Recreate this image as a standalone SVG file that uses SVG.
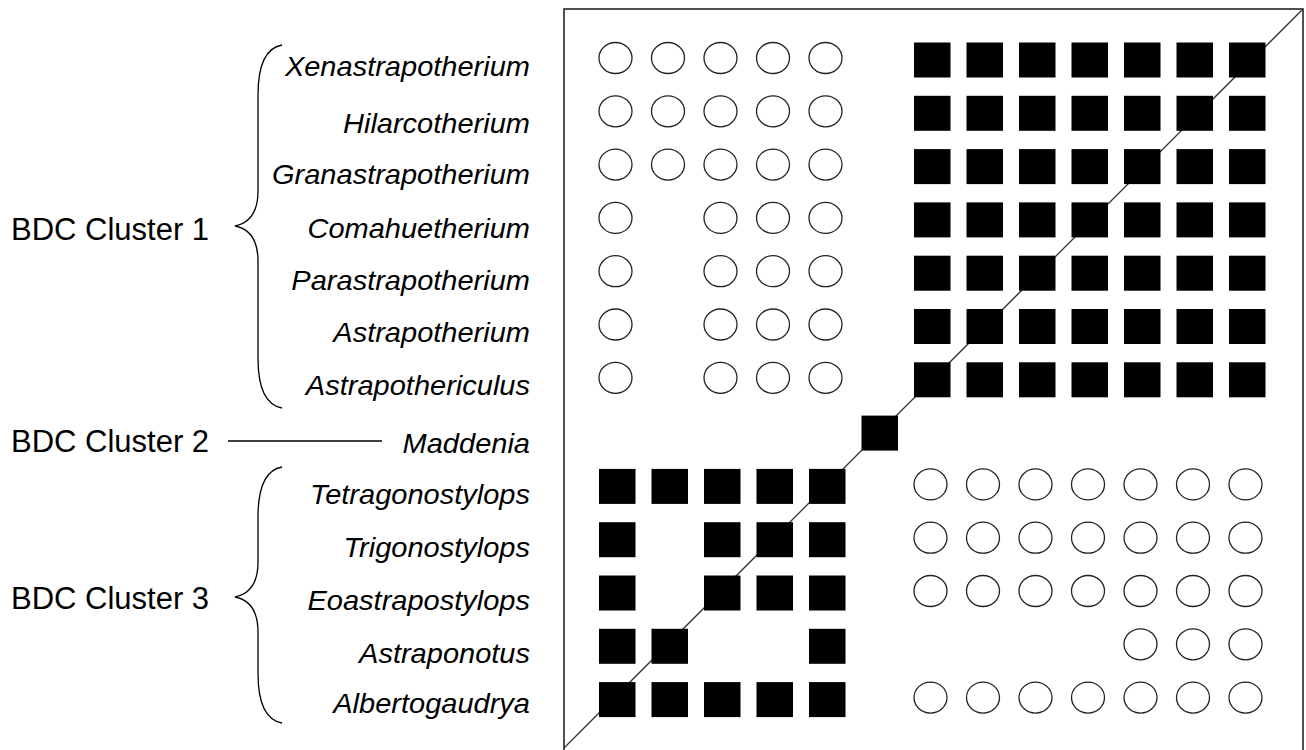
<svg xmlns="http://www.w3.org/2000/svg" xmlns:xlink="http://www.w3.org/1999/xlink" width="1306" height="750" viewBox="0 0 1306 750">
<style>
.sp{font-family:"Liberation Sans",Arial,sans-serif;font-style:italic;font-size:27px;fill:#000;text-anchor:end}
.cl{font-family:"Liberation Sans",Arial,sans-serif;font-size:31px;fill:#000}
.br{fill:none;stroke:#000;stroke-width:1.3}
.ln{fill:none;stroke:#333;stroke-width:1.3}
.ci{fill:#fff;stroke:#222;stroke-width:1.3}
.sq{fill:#000}
</style>
<defs>
<rect id="sq" class="sq" width="36.5" height="35"/>
<ellipse id="ci" class="ci" cx="16.5" cy="15.5" rx="16.5" ry="15.5"/>
</defs>
<rect width="1306" height="750" fill="#fff"/>
<rect x="564" y="9" width="739" height="760" fill="#fff" stroke="#333" stroke-width="1.7"/>
<g id="connectors">
<line class="ln" x1="564" y1="748" x2="1303" y2="9"/>
<line class="br" x1="228" y1="441" x2="382" y2="441"/>
<path class="br" d="M282,45 C265,48 258,65 258,95 L258,191 C258,211 250,223 235,226 C250,229 258,241 258,261 L258,358 C258,388 265,405 282,408"/>
<path class="br" d="M282,467 C265,470 258,487 258,517 L258,562 C258,582 250,594 235,597 C250,600 258,612 258,632 L258,673 C258,703 265,720 282,723"/>
</g>
<g id="cluster-labels">
<text id="cluster1" class="cl" x="11" y="240">BDC Cluster 1</text>
<text id="cluster2" class="cl" x="11" y="452">BDC Cluster 2</text>
<text id="cluster3" class="cl" x="11" y="609">BDC Cluster 3</text>
</g>
<g id="taxa">
<text class="sp" transform="translate(530,76) scale(1.075,1)">Xenastrapotherium</text>
<text class="sp" transform="translate(530,133) scale(1.075,1)">Hilarcotherium</text>
<text class="sp" transform="translate(530,184) scale(1.075,1)">Granastrapotherium</text>
<text class="sp" transform="translate(530,238) scale(1.075,1)">Comahuetherium</text>
<text class="sp" transform="translate(530,290) scale(1.075,1)">Parastrapotherium</text>
<text class="sp" transform="translate(530,342) scale(1.075,1)">Astrapotherium</text>
<text class="sp" transform="translate(530,395) scale(1.075,1)">Astrapothericulus</text>
<text class="sp" transform="translate(530,453) scale(1.075,1)">Maddenia</text>
<text class="sp" transform="translate(530,504) scale(1.075,1)">Tetragonostylops</text>
<text class="sp" transform="translate(530,557) scale(1.075,1)">Trigonostylops</text>
<text class="sp" transform="translate(530,610) scale(1.075,1)">Eoastrapostylops</text>
<text class="sp" transform="translate(530,663) scale(1.075,1)">Astraponotus</text>
<text class="sp" transform="translate(530,713) scale(1.075,1)">Albertogaudrya</text>
</g>
<g id="row1">
<use href="#ci" x="599" y="42.5"/><use href="#ci" x="651.5" y="42.5"/><use href="#ci" x="704" y="42.5"/><use href="#ci" x="756.5" y="42.5"/><use href="#ci" x="809" y="42.5"/>
<use href="#sq" x="914" y="42.5"/><use href="#sq" x="966.5" y="42.5"/><use href="#sq" x="1019" y="42.5"/><use href="#sq" x="1071.5" y="42.5"/><use href="#sq" x="1124" y="42.5"/><use href="#sq" x="1176.5" y="42.5"/><use href="#sq" x="1229" y="42.5"/>
</g>
<g id="row2">
<use href="#ci" x="599" y="95.8"/><use href="#ci" x="651.5" y="95.8"/><use href="#ci" x="704" y="95.8"/><use href="#ci" x="756.5" y="95.8"/><use href="#ci" x="809" y="95.8"/>
<use href="#sq" x="914" y="95.8"/><use href="#sq" x="966.5" y="95.8"/><use href="#sq" x="1019" y="95.8"/><use href="#sq" x="1071.5" y="95.8"/><use href="#sq" x="1124" y="95.8"/><use href="#sq" x="1176.5" y="95.8"/><use href="#sq" x="1229" y="95.8"/>
</g>
<g id="row3">
<use href="#ci" x="599" y="149.1"/><use href="#ci" x="651.5" y="149.1"/><use href="#ci" x="704" y="149.1"/><use href="#ci" x="756.5" y="149.1"/><use href="#ci" x="809" y="149.1"/>
<use href="#sq" x="914" y="149.1"/><use href="#sq" x="966.5" y="149.1"/><use href="#sq" x="1019" y="149.1"/><use href="#sq" x="1071.5" y="149.1"/><use href="#sq" x="1124" y="149.1"/><use href="#sq" x="1176.5" y="149.1"/><use href="#sq" x="1229" y="149.1"/>
</g>
<g id="row4">
<use href="#ci" x="599" y="202.4"/><use href="#ci" x="704" y="202.4"/><use href="#ci" x="756.5" y="202.4"/><use href="#ci" x="809" y="202.4"/>
<use href="#sq" x="914" y="202.4"/><use href="#sq" x="966.5" y="202.4"/><use href="#sq" x="1019" y="202.4"/><use href="#sq" x="1071.5" y="202.4"/><use href="#sq" x="1124" y="202.4"/><use href="#sq" x="1176.5" y="202.4"/><use href="#sq" x="1229" y="202.4"/>
</g>
<g id="row5">
<use href="#ci" x="599" y="255.7"/><use href="#ci" x="704" y="255.7"/><use href="#ci" x="756.5" y="255.7"/><use href="#ci" x="809" y="255.7"/>
<use href="#sq" x="914" y="255.7"/><use href="#sq" x="966.5" y="255.7"/><use href="#sq" x="1019" y="255.7"/><use href="#sq" x="1071.5" y="255.7"/><use href="#sq" x="1124" y="255.7"/><use href="#sq" x="1176.5" y="255.7"/><use href="#sq" x="1229" y="255.7"/>
</g>
<g id="row6">
<use href="#ci" x="599" y="309"/><use href="#ci" x="704" y="309"/><use href="#ci" x="756.5" y="309"/><use href="#ci" x="809" y="309"/>
<use href="#sq" x="914" y="309"/><use href="#sq" x="966.5" y="309"/><use href="#sq" x="1019" y="309"/><use href="#sq" x="1071.5" y="309"/><use href="#sq" x="1124" y="309"/><use href="#sq" x="1176.5" y="309"/><use href="#sq" x="1229" y="309"/>
</g>
<g id="row7">
<use href="#ci" x="599" y="362.3"/><use href="#ci" x="704" y="362.3"/><use href="#ci" x="756.5" y="362.3"/><use href="#ci" x="809" y="362.3"/>
<use href="#sq" x="914" y="362.3"/><use href="#sq" x="966.5" y="362.3"/><use href="#sq" x="1019" y="362.3"/><use href="#sq" x="1071.5" y="362.3"/><use href="#sq" x="1124" y="362.3"/><use href="#sq" x="1176.5" y="362.3"/><use href="#sq" x="1229" y="362.3"/>
</g>
<g id="row8">
<use href="#sq" x="861.5" y="415.6"/>
</g>
<g id="row9">
<use href="#sq" x="599" y="468.9"/><use href="#sq" x="651.5" y="468.9"/><use href="#sq" x="704" y="468.9"/><use href="#sq" x="756.5" y="468.9"/><use href="#sq" x="809" y="468.9"/>
<use href="#ci" x="914" y="468.9"/><use href="#ci" x="966.5" y="468.9"/><use href="#ci" x="1019" y="468.9"/><use href="#ci" x="1071.5" y="468.9"/><use href="#ci" x="1124" y="468.9"/><use href="#ci" x="1176.5" y="468.9"/><use href="#ci" x="1229" y="468.9"/>
</g>
<g id="row10">
<use href="#sq" x="599" y="522.2"/><use href="#sq" x="704" y="522.2"/><use href="#sq" x="756.5" y="522.2"/><use href="#sq" x="809" y="522.2"/>
<use href="#ci" x="914" y="522.2"/><use href="#ci" x="966.5" y="522.2"/><use href="#ci" x="1019" y="522.2"/><use href="#ci" x="1071.5" y="522.2"/><use href="#ci" x="1124" y="522.2"/><use href="#ci" x="1176.5" y="522.2"/><use href="#ci" x="1229" y="522.2"/>
</g>
<g id="row11">
<use href="#sq" x="599" y="575.5"/><use href="#sq" x="704" y="575.5"/><use href="#sq" x="756.5" y="575.5"/><use href="#sq" x="809" y="575.5"/>
<use href="#ci" x="914" y="575.5"/><use href="#ci" x="966.5" y="575.5"/><use href="#ci" x="1019" y="575.5"/><use href="#ci" x="1071.5" y="575.5"/><use href="#ci" x="1124" y="575.5"/><use href="#ci" x="1176.5" y="575.5"/><use href="#ci" x="1229" y="575.5"/>
</g>
<g id="row12">
<use href="#sq" x="599" y="628.8"/><use href="#sq" x="651.5" y="628.8"/><use href="#sq" x="809" y="628.8"/>
<use href="#ci" x="1124" y="628.8"/><use href="#ci" x="1176.5" y="628.8"/><use href="#ci" x="1229" y="628.8"/>
</g>
<g id="row13">
<use href="#sq" x="599" y="682.1"/><use href="#sq" x="651.5" y="682.1"/><use href="#sq" x="704" y="682.1"/><use href="#sq" x="756.5" y="682.1"/><use href="#sq" x="809" y="682.1"/>
<use href="#ci" x="914" y="682.1"/><use href="#ci" x="966.5" y="682.1"/><use href="#ci" x="1019" y="682.1"/><use href="#ci" x="1071.5" y="682.1"/><use href="#ci" x="1124" y="682.1"/><use href="#ci" x="1176.5" y="682.1"/><use href="#ci" x="1229" y="682.1"/>
</g>
</svg>
